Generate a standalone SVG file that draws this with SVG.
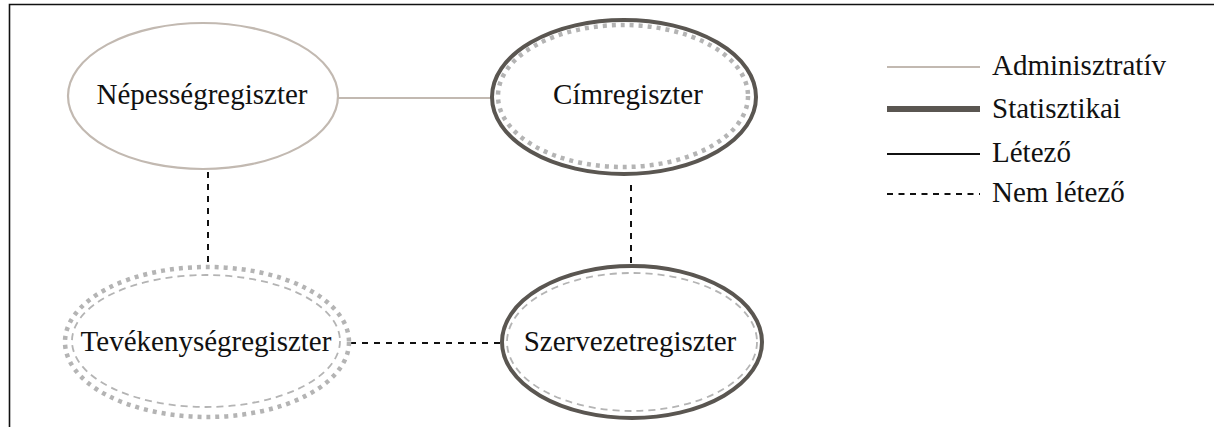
<svg xmlns="http://www.w3.org/2000/svg" width="1214" height="427" viewBox="0 0 1214 427">
  <style>
    .lbl { font-family: "Liberation Serif", "Times New Roman", serif; font-size: 29px; fill: #111; }
    .admin { fill: #fff; stroke: #c2b9b1; stroke-width: 2.2; }
    .stat { fill: #fff; stroke: #5a5651; stroke-width: 4; }
    .dotted { fill: none; stroke: #b4b4b4; stroke-width: 4.5; stroke-dasharray: 4 5; }
    .dashedthin { fill: none; stroke: #b4b4b4; stroke-width: 1.8; stroke-dasharray: 7 5; }
    .conn-solid { stroke: #c2b9b1; stroke-width: 2.2; fill: none; }
    .conn-dash { stroke: #111; stroke-width: 2; stroke-dasharray: 6 6; fill: none; }
  </style>

  <!-- frame -->
  <path d="M9.5 427 V4.5 H1214" fill="none" stroke="#111" stroke-width="1.6"/>

  <!-- connectors -->
  <g id="connectors">
    <line class="conn-solid" x1="338" y1="98" x2="492" y2="98"/>
    <line class="conn-dash" x1="208" y1="172" x2="208" y2="267"/>
    <line class="conn-dash" x1="631" y1="185" x2="631" y2="266"/>
    <line class="conn-dash" x1="350" y1="343" x2="502" y2="343"/>
  </g>

  <!-- registers -->
  <g id="nepessegregiszter">
    <ellipse class="admin" cx="203" cy="96" rx="135" ry="73"/>
    <text class="lbl" x="202" y="104" text-anchor="middle">Népességregiszter</text>
  </g>

  <g id="cimregiszter">
    <ellipse class="stat" cx="624" cy="97" rx="132" ry="77"/>
    <ellipse class="dotted" cx="623" cy="96" rx="125" ry="71"/>
    <text class="lbl" x="628" y="104" text-anchor="middle">Címregiszter</text>
  </g>

  <g id="tevekenysegregiszter">
    <ellipse cx="207" cy="342" rx="142" ry="75" fill="#fff"/>
    <ellipse class="dotted" cx="207" cy="342" rx="142" ry="75"/>
    <ellipse class="dashedthin" cx="206" cy="341" rx="134" ry="66"/>
    <text class="lbl" x="206" y="351" text-anchor="middle">Tevékenységregiszter</text>
  </g>

  <g id="szervezetregiszter">
    <ellipse class="stat" cx="632" cy="342" rx="130" ry="76"/>
    <ellipse class="dashedthin" cx="632" cy="342" rx="125" ry="69"/>
    <text class="lbl" x="630" y="351" text-anchor="middle">Szervezetregiszter</text>
  </g>

  <!-- legend -->
  <g id="legend">
    <line x1="887" y1="67" x2="980" y2="67" stroke="#c2b9b1" stroke-width="2.2"/>
    <text class="lbl" x="992" y="75">Adminisztratív</text>
    <line x1="887" y1="109" x2="980" y2="109" stroke="#5a5651" stroke-width="6"/>
    <text class="lbl" x="992" y="118">Statisztikai</text>
    <line x1="887" y1="154" x2="980" y2="154" stroke="#111" stroke-width="2"/>
    <text class="lbl" x="992" y="162">Létező</text>
    <line x1="887" y1="194" x2="980" y2="194" stroke="#111" stroke-width="2" stroke-dasharray="6 5.5"/>
    <text class="lbl" x="992" y="202">Nem létező</text>
  </g>
</svg>
